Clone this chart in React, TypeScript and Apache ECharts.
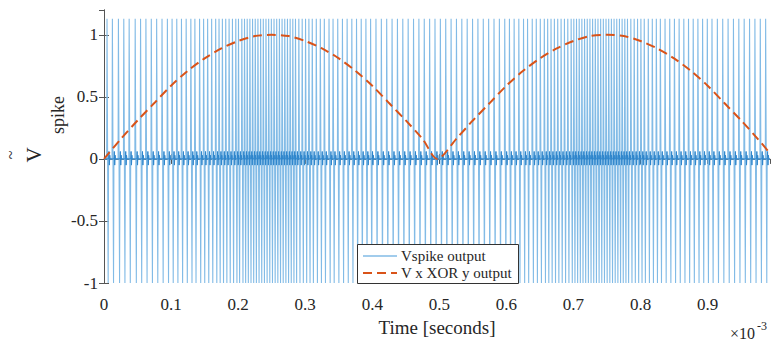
import React, { useEffect, useRef } from "react";
import * as echarts from "echarts";

// spike instants (x10^-3 s)
const spikeTimes = [
  0.004, 0.012, 0.021, 0.029, 0.037, 0.046, 0.054, 0.062, 0.07, 0.078, 0.086, 0.094,
  0.101, 0.108, 0.115, 0.122, 0.129, 0.135, 0.142, 0.148, 0.154, 0.16, 0.166, 0.171, 0.176, 0.181, 0.186, 0.191, 0.196,
  0.2, 0.205, 0.209, 0.213, 0.217, 0.221, 0.225, 0.229, 0.233, 0.237, 0.241, 0.245, 0.249, 0.253, 0.257, 0.261, 0.265, 0.269, 0.273, 0.277, 0.281, 0.285, 0.29, 0.295,
  0.3, 0.305, 0.31, 0.316, 0.322, 0.328, 0.335, 0.341, 0.348, 0.355, 0.362, 0.369, 0.376, 0.383, 0.39, 0.397,
  0.405, 0.413, 0.421, 0.429, 0.437, 0.445, 0.453, 0.461, 0.469, 0.477, 0.485, 0.493,
  0.501, 0.509, 0.517, 0.525, 0.533, 0.541, 0.549, 0.557, 0.565, 0.573, 0.581, 0.589, 0.597,
  0.604, 0.611, 0.618, 0.625, 0.631, 0.638, 0.644, 0.65, 0.656, 0.661, 0.666, 0.671, 0.676, 0.681, 0.686, 0.691, 0.696,
  0.7, 0.704, 0.708, 0.712, 0.716, 0.72, 0.724, 0.728, 0.732, 0.736, 0.74, 0.744, 0.748, 0.752, 0.756, 0.76, 0.764, 0.768, 0.772, 0.776, 0.78, 0.785, 0.79, 0.795, 0.8,
  0.805, 0.811, 0.817, 0.823, 0.829, 0.836, 0.843, 0.85, 0.857, 0.864, 0.871, 0.878, 0.885, 0.892, 0.899,
  0.906, 0.914, 0.922, 0.93, 0.938, 0.946, 0.954, 0.962, 0.97, 0.978, 0.986,
];
const spikePeak = 1.13;
const spikeTrough = -1;
const rippleValues = [0.06, -0.05, 0.03];

// red dashed curve samples
const curveTimes = [
  0, 0.025, 0.05, 0.075, 0.1, 0.125, 0.15, 0.175, 0.2, 0.225, 0.25, 0.275, 0.3, 0.325, 0.35, 0.375, 0.4, 0.425, 0.45, 0.475, 0.497,
  0.525, 0.55, 0.575, 0.6, 0.625, 0.65, 0.675, 0.7, 0.725, 0.75, 0.775, 0.8, 0.825, 0.85, 0.875, 0.9, 0.925, 0.95, 0.975, 0.993,
];
const curveValues = [
  0, 0.16, 0.31, 0.45, 0.59, 0.71, 0.81, 0.89, 0.95, 0.99, 1.0, 0.99, 0.95, 0.89, 0.81, 0.71, 0.59, 0.45, 0.31, 0.16, 0.0,
  0.16, 0.31, 0.45, 0.59, 0.71, 0.81, 0.89, 0.95, 0.99, 1.0, 0.99, 0.95, 0.89, 0.81, 0.71, 0.59, 0.45, 0.31, 0.16, 0.045,
];

const xTicks = [0, 0.1, 0.2, 0.3, 0.4, 0.5, 0.6, 0.7, 0.8, 0.9];
const yTicks = [-1, -0.5, 0, 0.5, 1];
const legendNames = ["Vspike output", "V x XOR y output"];

const FONT = "Liberation Serif";
const BLUE_LIGHT = "#82bbe6";
const BLUE_DARK = "#2f86cc";
const RED = "#D95319";
const TXT = "#262626";

export default function App() {
  const ref = useRef<HTMLDivElement>(null);
  useEffect(() => {
    if (!ref.current) return;
    const chart = echarts.init(ref.current, undefined, { renderer: "svg" });

    const spikeData: number[][] = [[0, 0]];
    const rippleData: number[][] = [[0, 0]];
    spikeTimes.forEach((t) => {
      spikeData.push([t, 0], [t + 0.0005, spikePeak], [t + 0.0022, spikeTrough], [t + 0.0028, 0]);
      rippleData.push([t + 0.0028, 0]);
      rippleValues.forEach((v, i) => rippleData.push([t + 0.0034 + i * 0.0006, v]));
      rippleData.push([t + 0.0052, 0]);
    });
    spikeData.push([0.993, 0]);
    rippleData.push([0.993, 0]);
    const curveData = curveTimes.map((t, i) => [t, curveValues[i]]);

    const axisLine = { lineStyle: { color: "#555", width: 1 } };
    const tick = { show: true, inside: true, length: 5, lineStyle: { color: "#555" } };
    chart.setOption({
      animation: false,
      grid: { left: 104, right: 1, top: 10, bottom: 60 },
      xAxis: [
        {
          type: "value",
          min: 0,
          max: 0.993,
          interval: 0.1,
          position: "bottom",
          axisLine,
          axisTick: tick,
          axisLabel: {
            fontFamily: FONT,
            fontSize: 17,
            color: TXT,
            margin: 13,
            showMaxLabel: false,
            formatter: (v: number) => {
              const m = xTicks.find((x) => Math.abs(x - v) < 1e-6);
              return m === undefined ? "" : String(m);
            },
          },
          splitLine: { show: false },
          name: "Time [seconds]",
          nameLocation: "middle",
          nameGap: 34,
          nameTextStyle: { fontFamily: FONT, fontSize: 19, color: TXT },
        },
        {
          type: "value",
          min: 0,
          max: 0.993,
          interval: 0.1,
          position: "top",
          axisLine,
          axisTick: tick,
          axisLabel: { show: false },
          splitLine: { show: false },
        },
      ],
      yAxis: [
        {
          type: "value",
          min: -1,
          max: 1.2,
          interval: 0.5,
          position: "left",
          axisLine: { show: true, ...axisLine },
          axisTick: tick,
          axisLabel: {
            fontFamily: FONT,
            fontSize: 17,
            color: TXT,
            margin: 6,
            showMaxLabel: false,
            formatter: (v: number) => {
              const m = yTicks.find((y) => Math.abs(y - v) < 1e-6);
              return m === undefined ? "" : String(m);
            },
          },
          splitLine: { show: false },
        },
        {
          type: "value",
          min: -1,
          max: 1.2,
          interval: 0.5,
          position: "right",
          axisLine: { show: true, ...axisLine },
          axisTick: tick,
          axisLabel: { show: false },
          splitLine: { show: false },
        },
      ],
      series: [
        {
          name: legendNames[0],
          type: "line",
          data: spikeData,
          showSymbol: false,
          symbol: "none",
          lineStyle: { color: BLUE_LIGHT, width: 1.1 },
          clip: true,
        },
        {
          name: "ripple",
          type: "line",
          data: rippleData,
          showSymbol: false,
          symbol: "none",
          lineStyle: { color: BLUE_DARK, width: 1 },
          clip: true,
        },
        {
          name: legendNames[1],
          type: "line",
          data: curveData,
          smooth: 0.3,
          showSymbol: false,
          symbol: "none",
          lineStyle: { color: RED, width: 2, type: [9, 5] },
          clip: true,
        },
      ],
      graphic: [
        {
          type: "text",
          x: 730,
          y: 333,
          style: { text: "×10", fontFamily: FONT, fontSize: 16, fill: TXT, verticalAlign: "middle" },
        },
        {
          type: "text",
          x: 757,
          y: 326,
          style: { text: "-3", fontFamily: FONT, fontSize: 12, fill: TXT, verticalAlign: "middle" },
        },
        {
          type: "text",
          x: 10,
          y: 155,
          rotation: Math.PI / 2,
          style: { text: "~", fontFamily: FONT, fontSize: 16, fill: TXT, align: "center", verticalAlign: "middle" },
        },
        {
          type: "text",
          x: 34,
          y: 155,
          rotation: Math.PI / 2,
          style: { text: "V", fontFamily: FONT, fontSize: 21, fill: TXT, align: "center", verticalAlign: "middle" },
        },
        {
          type: "text",
          x: 58,
          y: 115,
          rotation: Math.PI / 2,
          style: { text: "spike", fontFamily: FONT, fontSize: 18, fill: TXT, align: "center", verticalAlign: "middle" },
        },
        // legend box
        {
          type: "rect",
          shape: { x: 357.5, y: 244.5, width: 161, height: 39 },
          style: { fill: "#fff", stroke: "#333", lineWidth: 1 },
          z: 100,
        },
        {
          type: "line",
          shape: { x1: 363, y1: 256, x2: 397, y2: 256 },
          style: { stroke: BLUE_LIGHT, lineWidth: 1.3 },
          z: 101,
        },
        {
          type: "line",
          shape: { x1: 363, y1: 273, x2: 397, y2: 273 },
          style: { stroke: RED, lineWidth: 2, lineDash: [9, 5] },
          z: 101,
        },
        {
          type: "text",
          x: 401,
          y: 256,
          style: { text: legendNames[0], fontFamily: FONT, fontSize: 15, fill: TXT, verticalAlign: "middle" },
          z: 101,
        },
        {
          type: "text",
          x: 401,
          y: 273,
          style: { text: legendNames[1], fontFamily: FONT, fontSize: 15, fill: TXT, verticalAlign: "middle" },
          z: 101,
        },
      ],
    });
    return () => chart.dispose();
  }, []);
  return (
    <div
      ref={ref}
      style={{ position: "fixed", left: 0, top: 0, width: 771, height: 343, background: "#fff" }}
    />
  );
}
